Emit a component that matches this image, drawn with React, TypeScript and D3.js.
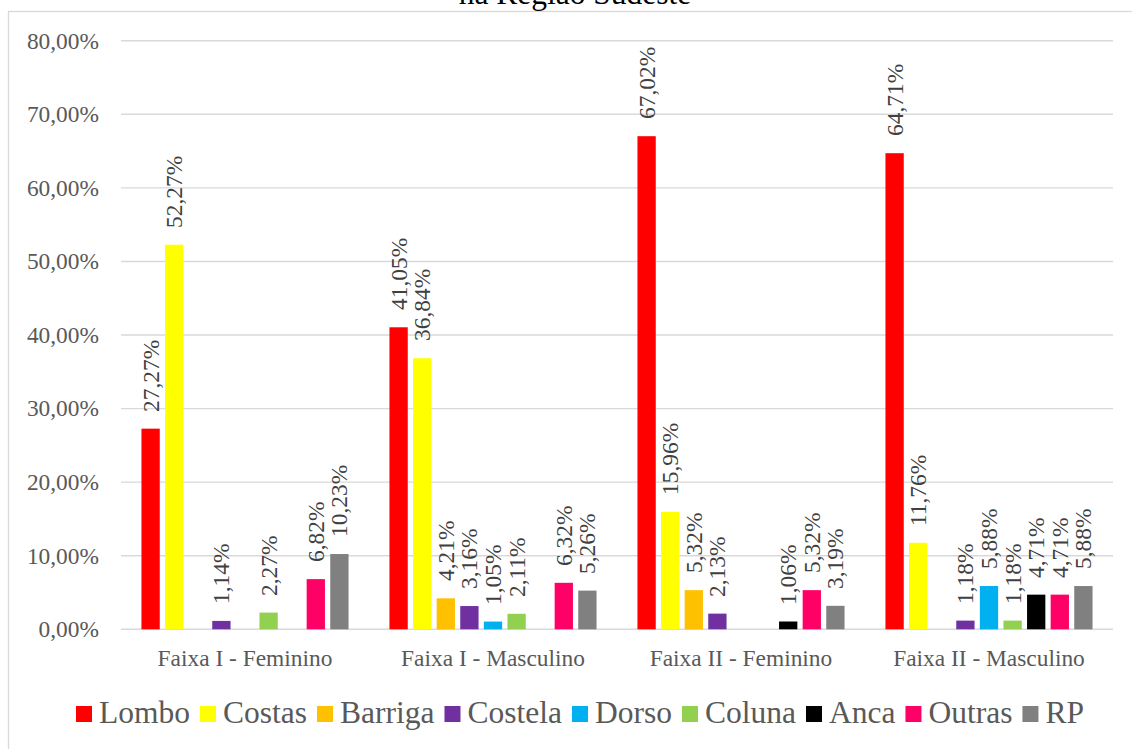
import React, { useEffect, useRef } from "react";
import * as d3 from "d3";

const categories = ["Faixa I - Feminino", "Faixa I - Masculino", "Faixa II - Feminino", "Faixa II - Masculino"];
const seriesNames = ["Lombo", "Costas", "Barriga", "Costela", "Dorso", "Coluna", "Anca", "Outras", "RP"];
const seriesColors = ["#FF0000", "#FFFF00", "#FFC000", "#7030A0", "#00B0F0", "#92D050", "#000000", "#FF0066", "#808080"];

const lombo = [27.27, 41.05, 67.02, 64.71];
const costas = [52.27, 36.84, 15.96, 11.76];
const barriga = [0, 4.21, 5.32, 0];
const costela = [1.14, 3.16, 2.13, 1.18];
const dorso = [0, 1.05, 0, 5.88];
const coluna = [2.27, 2.11, 0, 1.18];
const anca = [0, 0, 1.06, 4.71];
const outras = [6.82, 6.32, 5.32, 4.71];
const rp = [10.23, 5.26, 3.19, 5.88];
const seriesValues = [lombo, costas, barriga, costela, dorso, coluna, anca, outras, rp];

const yTicks = [0, 10, 20, 30, 40, 50, 60, 70, 80];
const titleText = "na Região Sudeste";

const W = 1132;
const H = 749;
const FONT = "'Liberation Serif', 'Times New Roman', Times, serif";

const fmt = (v: number) => v.toFixed(2).replace(".", ",") + "%";

export default function App() {
  const ref = useRef<SVGSVGElement | null>(null);

  useEffect(() => {
    const svg = d3.select(ref.current);
    svg.selectAll("*").remove();

    const left = 121, right = 1113, top = 40.7, bottom = 629.3;

    const x0 = d3.scaleBand<string>().domain(categories).range([left, right]).paddingInner(0).paddingOuter(0);
    const x1 = d3.scaleBand<string>().domain(seriesNames).range([0, x0.bandwidth()]).paddingInner(0.225).paddingOuter(0.867);
    const y = d3.scaleLinear().domain([0, 80]).range([bottom, top]);

    // frame
    svg.append("rect").attr("x", 8.5).attr("y", 11.5).attr("width", 1134).attr("height", 760)
      .attr("fill", "#fff").attr("stroke", "#d9d9d9").attr("stroke-width", 1.3);

    // title
    svg.append("text").attr("x", 575).attr("y", 4).attr("text-anchor", "middle")
      .attr("font-family", FONT).attr("font-size", 31.5).attr("fill", "#000").text(titleText);

    // gridlines
    svg.append("g").selectAll("line").data(yTicks).join("line")
      .attr("x1", left).attr("x2", right)
      .attr("y1", (d) => y(d)).attr("y2", (d) => y(d))
      .attr("stroke", "#d9d9d9").attr("stroke-width", 1.4);

    // y tick labels
    svg.append("g").selectAll("text").data(yTicks).join("text")
      .attr("x", 99).attr("y", (d) => y(d) + 7.8).attr("text-anchor", "end")
      .attr("font-family", FONT).attr("font-size", 23.4).attr("fill", "#595959")
      .text((d) => fmt(d));

    // bars and labels
    const barG = svg.append("g");
    const labelG = svg.append("g");
    categories.forEach((c, ci) => {
      seriesNames.forEach((s, si) => {
        const v = seriesValues[si][ci];
        if (v <= 0) return;
        const bx = x0(c)! + x1(s)!;
        barG.append("rect").attr("x", bx).attr("y", y(v)).attr("width", x1.bandwidth())
          .attr("height", y(0) - y(v)).attr("fill", seriesColors[si]);
        const cx = Math.round(bx + x1.bandwidth() / 2 + 8);
        const ty = Math.round(y(v) - 17);
        labelG.append("text").attr("x", cx).attr("y", ty)
          .attr("transform", `rotate(-90 ${cx} ${ty})`)
          .attr("font-family", FONT).attr("font-size", 23.4).attr("fill", "#404040")
          .text(fmt(v));
      });
    });

    // category labels
    svg.append("g").selectAll("text").data(categories).join("text")
      .attr("x", (c) => x0(c)! + x0.bandwidth() / 2).attr("y", 666).attr("text-anchor", "middle")
      .attr("font-family", FONT).attr("font-size", 23.4).attr("fill", "#595959").text((c) => c);

    // legend
    const lg = svg.append("g");
    const texts = seriesNames.map((s) =>
      lg.append("text").attr("y", 723).attr("font-family", FONT)
        .attr("font-size", 31.5).attr("fill", "#595959").text(s)
    );
    const widths = texts.map((t) => 23 + (t.node() as SVGTextElement).getComputedTextLength());
    const gap = 10;
    const total = d3.sum(widths) + gap * (widths.length - 1);
    let lx = Math.round(580 - total / 2);
    seriesNames.forEach((s, i) => {
      lg.append("rect").attr("x", lx).attr("y", 706).attr("width", 16).attr("height", 16).attr("fill", seriesColors[i]);
      texts[i].attr("x", lx + 23);
      lx += widths[i] + gap;
    });
  }, []);

  return (
    <svg ref={ref} width={W} height={H} style={{ position: "absolute", left: 0, top: 0, background: "#fff" }} />
  );
}
